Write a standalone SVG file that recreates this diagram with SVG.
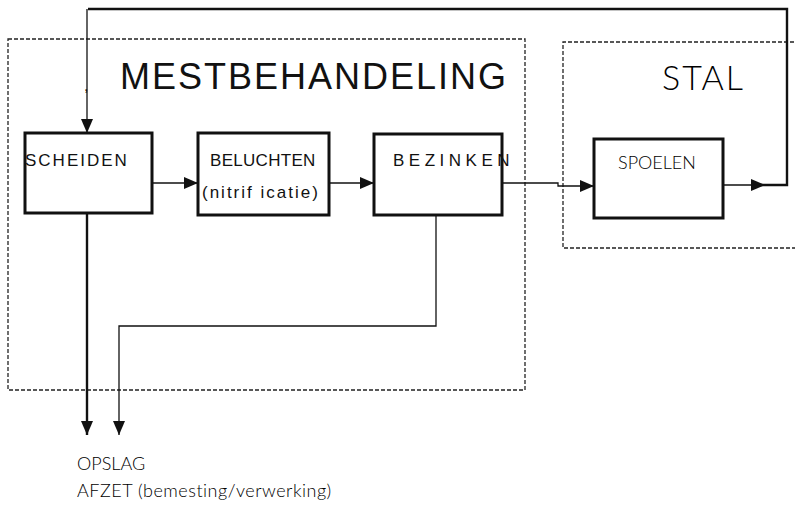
<svg xmlns="http://www.w3.org/2000/svg" width="795" height="510" viewBox="0 0 795 510">
<style>
  .bg { fill: #ffffff; }
  .group { fill: none; stroke: #222; stroke-width: 1.3; stroke-dasharray: 4 2; }
  .box { fill: #ffffff; stroke: #111; stroke-width: 3; }
  .conn { fill: none; stroke: #111; stroke-width: 1.3; }
  .thick { stroke-width: 2.4; }
  .lbl { font-family: "Liberation Sans", Arial, sans-serif; fill: #111; }
  .title { font-size: 36px; letter-spacing: 2px; }
  .stal { font-size: 34px; letter-spacing: 2px; font-family: "Lato", "Open Sans", "Liberation Sans", sans-serif; font-weight: 300; fill: #000; }
  .node { font-size: 17px; }
  .thin { font-family: "Lato", "Open Sans", "Liberation Sans", sans-serif; font-weight: 300; font-size: 18px; fill: #000; }
</style>
<defs>
  <marker id="arr" markerUnits="userSpaceOnUse" markerWidth="15" markerHeight="12" refX="14" refY="6" orient="auto">
    <path d="M0,0 L14,6 L0,12 z" fill="#111"/>
  </marker>
</defs>
<rect class="bg" x="0" y="0" width="795" height="510"/>

<g id="mestbehandeling">
  <rect class="group" x="8" y="39" width="517" height="351"/>
  <text class="lbl title" x="120" y="89">MESTBEHANDELING</text>
  <text class="lbl" x="84" y="91" font-size="16">,</text>
</g>

<g id="stal">
  <path class="group" d="M800 42 L563 42 L563 248 L800 248"/>
  <text class="lbl stal" x="662" y="90">STAL</text>
</g>

<g id="connectors">
  <path class="conn" d="M723 185 L765 185" marker-end="url(#arr)"/>
  <path class="conn thick" d="M760 185 L787 185 L787 9 L88 9"/>
  <path class="conn" d="M87 9 L87 133" marker-end="url(#arr)"/>
  <path class="conn" d="M152 183 L198 183" marker-end="url(#arr)"/>
  <path class="conn" d="M329 183 L374 183" marker-end="url(#arr)"/>
  <path class="conn" d="M502 183 L558 183 L558 186 L594 186" marker-end="url(#arr)"/>
  <path class="conn thick" d="M87 213 L87 435" marker-end="url(#arr)"/>
  <path class="conn" d="M436 215 L436 326 L119 326 L119 435" marker-end="url(#arr)"/>
</g>

<g id="scheiden">
  <rect class="box" x="25" y="133" width="127" height="80"/>
  <text class="lbl node" x="25" y="166" letter-spacing="2">SCHEIDEN</text>
</g>

<g id="beluchten">
  <rect class="box" x="198" y="133" width="131" height="82"/>
  <text class="lbl node" x="210" y="166" letter-spacing="0.3">BELUCHTEN</text>
  <text class="lbl node" x="202" y="198" letter-spacing="2">(nitrif icatie)</text>
</g>

<g id="bezinken">
  <rect class="box" x="374" y="134" width="128" height="81"/>
  <text class="lbl node" x="393" y="166" letter-spacing="4.5">BEZINKEN</text>
</g>

<g id="spoelen">
  <rect class="box" x="594" y="139" width="129" height="79"/>
  <text class="lbl thin" x="618" y="169">SPOELEN</text>
</g>

<g id="opslag">
  <text class="lbl thin" x="77" y="470">OPSLAG</text>
  <text class="lbl thin" x="77" y="497" letter-spacing="0.5">AFZET (bemesting/verwerking)</text>
</g>
</svg>
